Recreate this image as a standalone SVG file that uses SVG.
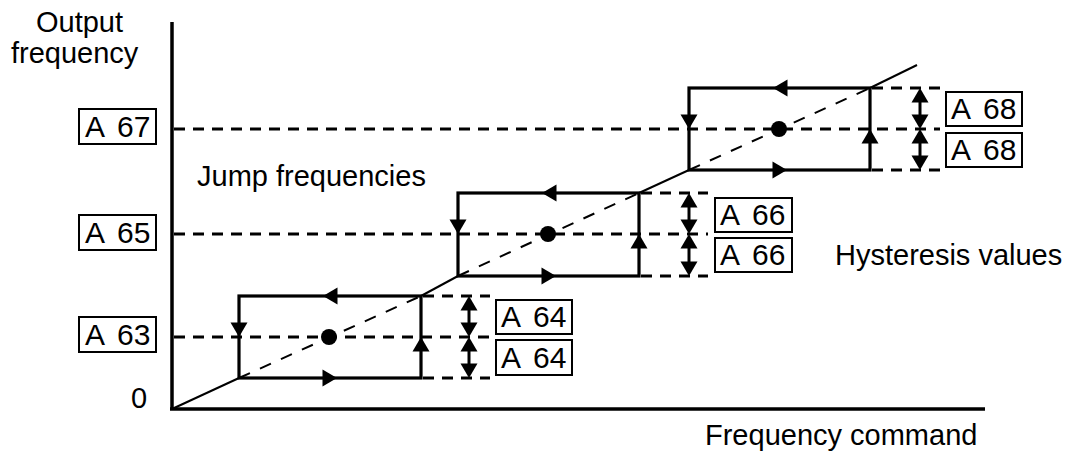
<svg xmlns="http://www.w3.org/2000/svg" xmlns:xlink="http://www.w3.org/1999/xlink" width="1071" height="456" viewBox="0 0 1071 456">
<style>
.txt{font-family:"Liberation Sans",Arial,sans-serif;font-size:29px;fill:#000}
.lbl{font-family:"Liberation Sans",Arial,sans-serif;font-size:30px;fill:#000}
.lbox{fill:#fff;stroke:#000;stroke-width:2}
.axis{stroke:#000;stroke-width:3.5;fill:none}
.edge{stroke:#000;stroke-width:3.2;fill:none}
.hdash{stroke:#000;stroke-width:3;stroke-dasharray:11 8;fill:none}
.diag{stroke:#000;stroke-width:2;fill:none}
.ddash{stroke:#000;stroke-width:2;stroke-dasharray:12 11;fill:none}
.shaft{stroke:#000;stroke-width:3;fill:none}
</style>
<defs>
<path id="ah" d="M0,0 L-14.5,-8.5 L-14.5,8.5 Z" fill="#000"/>
</defs>
<rect width="1071" height="456" fill="#fff"/>

<g id="connectors">
  <line class="axis" x1="172" y1="22" x2="172" y2="409"/>
  <line class="axis" x1="170" y1="409" x2="985" y2="409"/>
  <line class="hdash" x1="174" y1="337" x2="490" y2="337"/>
  <line class="hdash" x1="174" y1="234" x2="708" y2="234"/>
  <line class="hdash" x1="174" y1="129" x2="940" y2="129"/>
  <line class="hdash" x1="423" y1="296" x2="490" y2="296"/>
  <line class="hdash" x1="423" y1="378" x2="490" y2="378"/>
  <line class="hdash" x1="641" y1="193" x2="708" y2="193"/>
  <line class="hdash" x1="641" y1="276" x2="708" y2="276"/>
  <line class="hdash" x1="872" y1="88" x2="940" y2="88"/>
  <line class="hdash" x1="872" y1="170" x2="940" y2="170"/>
  <line class="diag" x1="172" y1="409" x2="239" y2="378"/>
  <line class="ddash" x1="239" y1="378" x2="421" y2="296"/>
  <line class="diag" x1="421" y1="296" x2="458" y2="276"/>
  <line class="ddash" x1="458" y1="276" x2="639" y2="193"/>
  <line class="diag" x1="639" y1="193" x2="689" y2="170"/>
  <line class="ddash" x1="689" y1="170" x2="870" y2="88"/>
  <line class="diag" x1="870" y1="88" x2="917" y2="65"/>
  <rect class="edge" x="239" y="296" width="182" height="82"/>
  <rect class="edge" x="458" y="193" width="181" height="83"/>
  <rect class="edge" x="689" y="88" width="181" height="82"/>
  <use xlink:href="#ah" transform="translate(323,296) rotate(180)"/>
  <use xlink:href="#ah" transform="translate(337,378)"/>
  <use xlink:href="#ah" transform="translate(239,337) rotate(90)"/>
  <use xlink:href="#ah" transform="translate(421,337) rotate(-90)"/>
  <use xlink:href="#ah" transform="translate(542,193) rotate(180)"/>
  <use xlink:href="#ah" transform="translate(556,276)"/>
  <use xlink:href="#ah" transform="translate(458,234) rotate(90)"/>
  <use xlink:href="#ah" transform="translate(639,234) rotate(-90)"/>
  <use xlink:href="#ah" transform="translate(773,88) rotate(180)"/>
  <use xlink:href="#ah" transform="translate(787,170)"/>
  <use xlink:href="#ah" transform="translate(689,129) rotate(90)"/>
  <use xlink:href="#ah" transform="translate(870,129) rotate(-90)"/>
  <line class="shaft" x1="469" y1="300" x2="469" y2="333"/>
  <line class="shaft" x1="469" y1="341" x2="469" y2="374"/>
  <use xlink:href="#ah" transform="translate(469,296) rotate(-90)"/>
  <use xlink:href="#ah" transform="translate(469,337) rotate(90)"/>
  <use xlink:href="#ah" transform="translate(469,337) rotate(-90)"/>
  <use xlink:href="#ah" transform="translate(469,378) rotate(90)"/>
  <line class="shaft" x1="689" y1="197" x2="689" y2="230"/>
  <line class="shaft" x1="689" y1="238" x2="689" y2="272"/>
  <use xlink:href="#ah" transform="translate(689,193) rotate(-90)"/>
  <use xlink:href="#ah" transform="translate(689,234) rotate(90)"/>
  <use xlink:href="#ah" transform="translate(689,234) rotate(-90)"/>
  <use xlink:href="#ah" transform="translate(689,276) rotate(90)"/>
  <line class="shaft" x1="920" y1="92" x2="920" y2="125"/>
  <line class="shaft" x1="920" y1="133" x2="920" y2="166"/>
  <use xlink:href="#ah" transform="translate(920,88) rotate(-90)"/>
  <use xlink:href="#ah" transform="translate(920,129) rotate(90)"/>
  <use xlink:href="#ah" transform="translate(920,129) rotate(-90)"/>
  <use xlink:href="#ah" transform="translate(920,170) rotate(90)"/>
  <circle cx="329" cy="337" r="8" fill="#000"/>
  <circle cx="548" cy="234" r="8" fill="#000"/>
  <circle cx="779" cy="129" r="8" fill="#000"/>
</g>

<g id="axis-labels">
  <text class="txt" x="36" y="32">Output</text>
  <text class="txt" x="11" y="63">frequency</text>
  <text class="txt" x="131" y="408">0</text>
  <text class="txt" x="705" y="445">Frequency command</text>
</g>
<g id="jump-frequencies-label">
  <text class="txt" x="197" y="186">Jump frequencies</text>
</g>
<g id="hysteresis-values-label">
  <text class="txt" x="835" y="265">Hysteresis values</text>
</g>

<g id="node-A67">
  <rect class="lbox" x="79" y="109" width="77" height="35"/>
  <text class="lbl" y="137"><tspan x="85">A </tspan><tspan x="117">67</tspan></text>
</g>
<g id="node-A65">
  <rect class="lbox" x="79" y="215" width="77" height="35"/>
  <text class="lbl" y="243"><tspan x="85">A </tspan><tspan x="117">65</tspan></text>
</g>
<g id="node-A63">
  <rect class="lbox" x="79" y="317" width="77" height="35"/>
  <text class="lbl" y="345"><tspan x="85">A </tspan><tspan x="117">63</tspan></text>
</g>

<g id="node-A64-upper">
  <rect class="lbox" x="496" y="300" width="76" height="34"/>
  <text class="lbl" y="327"><tspan x="501">A </tspan><tspan x="533">64</tspan></text>
</g>
<g id="node-A64-lower">
  <rect class="lbox" x="496" y="340" width="76" height="35"/>
  <text class="lbl" y="368"><tspan x="501">A </tspan><tspan x="533">64</tspan></text>
</g>
<g id="node-A66-upper">
  <rect class="lbox" x="715" y="198" width="77" height="34"/>
  <text class="lbl" y="225"><tspan x="720">A </tspan><tspan x="752">66</tspan></text>
</g>
<g id="node-A66-lower">
  <rect class="lbox" x="715" y="238" width="77" height="34"/>
  <text class="lbl" y="265"><tspan x="720">A </tspan><tspan x="752">66</tspan></text>
</g>
<g id="node-A68-upper">
  <rect class="lbox" x="946" y="92" width="76" height="34"/>
  <text class="lbl" y="119"><tspan x="951">A </tspan><tspan x="983">68</tspan></text>
</g>
<g id="node-A68-lower">
  <rect class="lbox" x="946" y="133" width="76" height="34"/>
  <text class="lbl" y="160"><tspan x="951">A </tspan><tspan x="983">68</tspan></text>
</g>
</svg>
